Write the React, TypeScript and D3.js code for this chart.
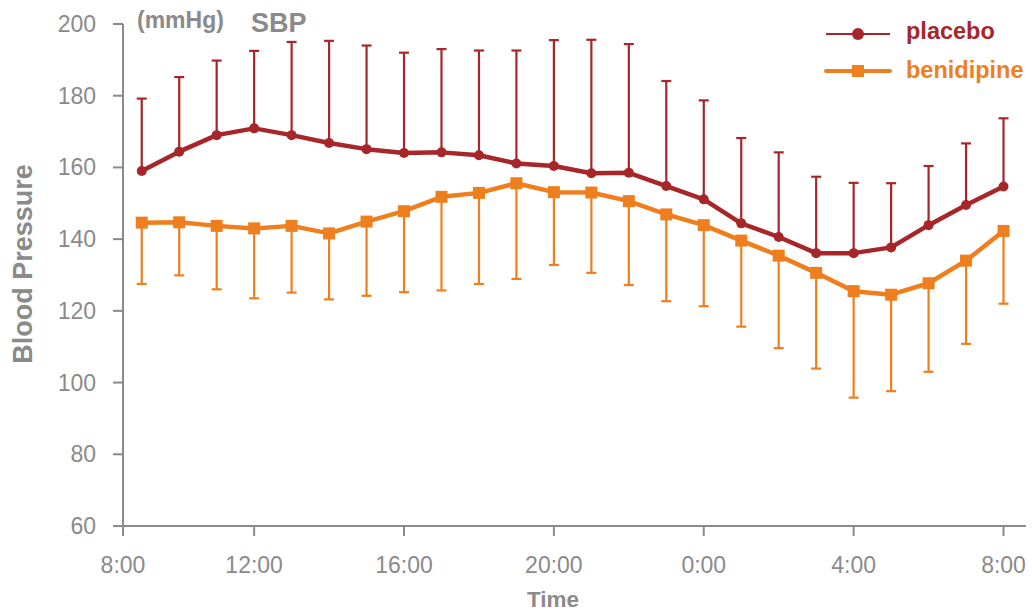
import React from "react";
import * as d3 from "d3";

// Hourly readings, 9:00 through 8:00 the next morning (hours counted from midnight of day 1)
const hours = [9, 10, 11, 12, 13, 14, 15, 16, 17, 18, 19, 20, 21, 22, 23, 24, 25, 26, 27, 28, 29, 30, 31, 32];

const placeboMean = [159.0, 164.4, 169.0, 170.9, 169.0, 166.8, 165.1, 164.0, 164.2, 163.4, 161.1, 160.4, 158.4, 158.5, 154.8, 151.1, 144.4, 140.6, 136.1, 136.1, 137.7, 143.9, 149.5, 154.7];
const placeboUpper = [179.2, 185.2, 189.8, 192.5, 195.0, 195.3, 194.0, 192.0, 193.0, 192.6, 192.6, 195.5, 195.6, 194.4, 184.1, 178.7, 168.2, 164.2, 157.4, 155.7, 155.6, 160.4, 166.7, 173.7];

const benidipineMean = [144.6, 144.7, 143.7, 143.0, 143.7, 141.6, 144.9, 147.8, 151.8, 152.9, 155.6, 153.1, 153.0, 150.6, 146.9, 143.9, 139.6, 135.4, 130.6, 125.5, 124.5, 127.7, 134.0, 142.3];
const benidipineLower = [127.5, 129.9, 126.0, 123.5, 125.1, 123.2, 124.2, 125.2, 125.7, 127.5, 128.9, 132.8, 130.6, 127.2, 122.7, 121.3, 115.6, 109.6, 103.9, 95.8, 97.6, 103.0, 110.8, 122.0];

const xTickHours = [8.5, 12, 16, 20, 24, 28, 32];
const xTickLabels = ["8:00", "12:00", "16:00", "20:00", "0:00", "4:00", "8:00"];
const yTicks = [60, 80, 100, 120, 140, 160, 180, 200];

const seriesNames = ["placebo", "benidipine"];

const W = 1032;
const H = 612;
const left = 123;
const right = 1026;
const top = 24;
const bottom = 526;

const GRAY = "#8a8a8a";
const RED = "#a6262a";
const ORANGE = "#ef7f1e";
const FONT = "'Liberation Sans', Arial, sans-serif";

export default function App() {
  const x = d3.scaleLinear().domain([8.5, 32.6]).range([left, right]);
  const y = d3.scaleLinear().domain([60, 200]).range([bottom, top]);

  const line = d3
    .line<[number, number]>()
    .x((d) => x(d[0]))
    .y((d) => y(d[1]));

  const placeboPts = hours.map((h, i) => [h, placeboMean[i]] as [number, number]);
  const beniPts = hours.map((h, i) => [h, benidipineMean[i]] as [number, number]);

  const capW = 5;

  return (
    <svg
      width={W}
      height={H}
      style={{ position: "absolute", left: 0, top: 0 }}
      fontFamily={FONT}
    >
      <rect width={W} height={H} fill="#ffffff" />

      {/* axes */}
      <g stroke={GRAY} strokeWidth={2} fill="none">
        <line x1={left} x2={left} y1={top} y2={bottom + 10} />
        <line x1={left - 10} x2={right} y1={bottom} y2={bottom} />
        {yTicks.map((t) => (
          <line key={"yt" + t} x1={left - 10} x2={left} y1={y(t)} y2={y(t)} />
        ))}
        {xTickHours.map((h, i) => (
          <line key={"xt" + i} x1={x(h)} x2={x(h)} y1={bottom} y2={bottom + 10} />
        ))}
      </g>
      <g fill={GRAY} fontSize={23}>
        {yTicks.map((t) => (
          <text key={"yl" + t} x={left - 27} y={y(t) + 8} textAnchor="end">
            {t}
          </text>
        ))}
        {xTickHours.map((h, i) => (
          <text key={"xl" + i} x={x(h)} y={573} textAnchor="middle">
            {xTickLabels[i]}
          </text>
        ))}
      </g>

      {/* axis titles */}
      <text x={553} y={607} textAnchor="middle" fill={GRAY} fontSize={22.5} fontWeight="bold">
        Time
      </text>
      <text
        transform={`translate(32,264) rotate(-90)`}
        textAnchor="middle"
        fill={GRAY}
        fontSize={27}
        fontWeight="bold"
      >
        Blood Pressure
      </text>
      <text x={137} y={28} fill={GRAY} fontSize={23} fontWeight="bold">
        (mmHg)
      </text>
      <text x={251} y={32} fill={GRAY} fontSize={27} fontWeight="bold">
        SBP
      </text>

      {/* error bars */}
      <g stroke={RED} strokeWidth={2.2}>
        {hours.map((h, i) => (
          <g key={"pe" + i}>
            <line x1={x(h)} x2={x(h)} y1={y(placeboMean[i])} y2={y(placeboUpper[i])} />
            <line x1={x(h) - capW} x2={x(h) + capW} y1={y(placeboUpper[i])} y2={y(placeboUpper[i])} />
          </g>
        ))}
      </g>
      <g stroke={ORANGE} strokeWidth={2.2}>
        {hours.map((h, i) => (
          <g key={"be" + i}>
            <line x1={x(h)} x2={x(h)} y1={y(benidipineMean[i])} y2={y(benidipineLower[i])} />
            <line x1={x(h) - capW} x2={x(h) + capW} y1={y(benidipineLower[i])} y2={y(benidipineLower[i])} />
          </g>
        ))}
      </g>

      {/* series lines and markers */}
      <path d={line(placeboPts) ?? ""} fill="none" stroke={RED} strokeWidth={4.5} strokeLinejoin="round" />
      {placeboPts.map((p, i) => (
        <circle key={"pc" + i} cx={x(p[0])} cy={y(p[1])} r={5} fill={RED} />
      ))}
      <path d={line(beniPts) ?? ""} fill="none" stroke={ORANGE} strokeWidth={4.5} strokeLinejoin="round" />
      {beniPts.map((p, i) => (
        <rect key={"bs" + i} x={x(p[0]) - 6} y={y(p[1]) - 6} width={12} height={12} fill={ORANGE} />
      ))}

      {/* legend */}
      <g>
        <line x1={826} x2={890} y1={34} y2={34} stroke={RED} strokeWidth={2} />
        <circle cx={858} cy={34} r={6} fill={RED} />
        <text x={906} y={39} fill={RED} fontSize={23.5} fontWeight="bold">
          {seriesNames[0]}
        </text>
        <line x1={826} x2={890} y1={71} y2={71} stroke={ORANGE} strokeWidth={4} strokeLinecap="round" />
        <rect x={852} y={65} width={12} height={12} fill={ORANGE} />
        <text x={906} y={78} fill={ORANGE} fontSize={23.5} fontWeight="bold">
          {seriesNames[1]}
        </text>
      </g>
    </svg>
  );
}
